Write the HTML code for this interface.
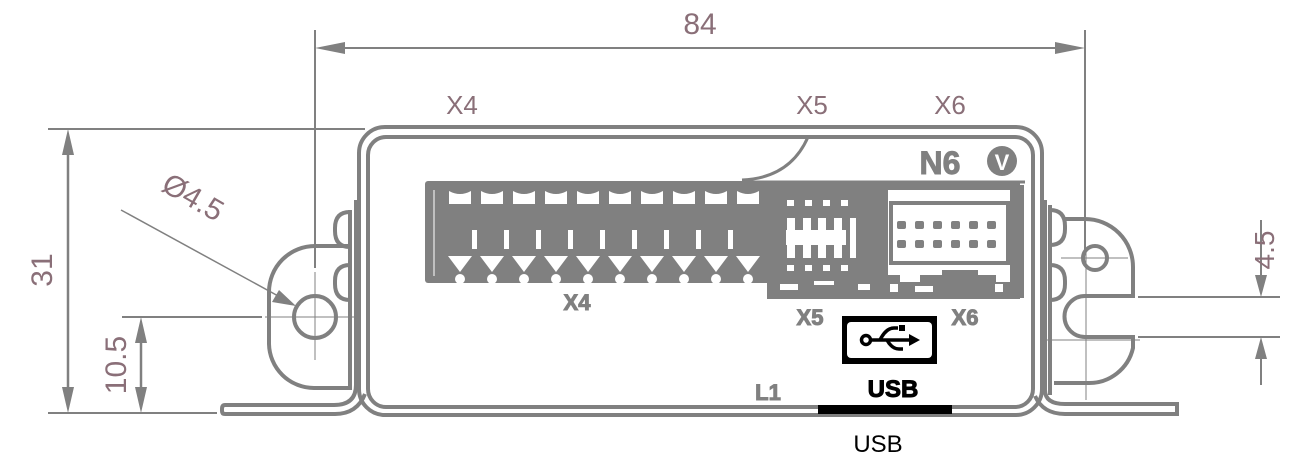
<!DOCTYPE html>
<html><head><meta charset="utf-8"><style>
html,body{margin:0;padding:0;background:#fff;width:1292px;height:462px;overflow:hidden}
svg{display:block}
text{font-family:"Liberation Sans",sans-serif}
</style></head><body>
<svg width="1292" height="462" viewBox="0 0 1292 462" xmlns="http://www.w3.org/2000/svg">
<g stroke="#808080" fill="none">
<line x1="315" y1="30" x2="315" y2="268" stroke-width="2"/>
<line x1="1085" y1="30" x2="1085" y2="252" stroke-width="2"/>
<line x1="345" y1="48" x2="1055" y2="48" stroke-width="2"/>
<path d="M315,48 l30,-6 v12 z M1085,48 l-30,-6 v12 z" fill="#808080" stroke="none"/>
<line x1="48" y1="129" x2="365" y2="129" stroke-width="2"/>
<line x1="48" y1="413" x2="217" y2="413" stroke-width="2"/>
<line x1="68" y1="155" x2="68" y2="387" stroke-width="2.5"/>
<path d="M68,129 l-6,26 h12 z M68,413 l-6,-26 h12 z" fill="#808080" stroke="none"/>
<line x1="122" y1="317" x2="262" y2="317" stroke-width="2"/>
<line x1="141" y1="343" x2="141" y2="387" stroke-width="2.5"/>
<path d="M141,317 l-6,26 h12 z M141,413 l-6,-26 h12 z" fill="#808080" stroke="none"/>
<line x1="121" y1="210" x2="280" y2="297" stroke-width="1.5"/>
<path d="M296,306 l-24,-4 l7,-12 z" fill="#808080" stroke="none"/>
<line x1="1138" y1="297" x2="1280" y2="297" stroke-width="2"/>
<line x1="1138" y1="337" x2="1280" y2="337" stroke-width="2"/>
<line x1="1261" y1="220" x2="1261" y2="275" stroke-width="2"/>
<line x1="1261" y1="359" x2="1261" y2="385" stroke-width="2"/>
<path d="M1261,297 l-6,-22 h12 z M1261,337 l-6,22 h12 z" fill="#808080" stroke="none"/>

<rect x="359" y="127" width="683" height="288" rx="26" stroke-width="4"/>
<rect x="368" y="137" width="665" height="270" rx="18" stroke-width="4"/>

<path d="M349,246 H315 A46,46 0 0 0 269,292 V344 A45,45 0 0 0 314,388 H349" stroke-width="4"/>
<path d="M350,212 q-15,0 -15,16 v3 q0,16 15,16" stroke-width="4"/>
<path d="M350,265 q-15,0 -15,16 v3 q0,16 15,16" stroke-width="4"/>
<line x1="350" y1="210" x2="350" y2="390" stroke-width="4"/>
<path d="M356,200 V385 q0,20 -22,20 H225 q-3,0 -3,4 v2 q0,3 3,3 H335 q22,0 30,-20" stroke-width="4"/>
<circle cx="315" cy="317" r="21" stroke-width="4"/>
<line x1="315" y1="272" x2="315" y2="360" stroke-width="1"/>
<line x1="265" y1="317" x2="358" y2="317" stroke-width="1"/>

<path d="M1064,219 H1085 A48,48 0 0 1 1133,267 V296 H1085 A20,20 0 0 0 1085,337 H1133 V348 A45,45 0 0 1 1088,383 H1054" stroke-width="4"/>
<path d="M1050,210 q15,0 15,16 v3 q0,16 -15,16" stroke-width="4"/>
<path d="M1050,265 q15,0 15,16 v3 q0,16 -15,16" stroke-width="4"/>
<line x1="1050" y1="205" x2="1050" y2="395" stroke-width="4"/>
<path d="M1045,200 V390 q0,14 20,14 H1177 v10 H1065 q-22,0 -30,-18" stroke-width="4"/>
<circle cx="1095" cy="258" r="12" stroke-width="4"/>
<line x1="1061" y1="258" x2="1128" y2="258" stroke-width="1"/>
<line x1="1086" y1="250" x2="1086" y2="400" stroke-width="1"/>
<line x1="1040" y1="340" x2="1140" y2="340" stroke-width="1"/>

<path d="M808,137 Q790,178 742,180" stroke-width="3"/>
<line x1="742" y1="182" x2="1025" y2="182" stroke-width="3"/>
<line x1="1021" y1="185" x2="1021" y2="298" stroke-width="6"/>
</g>

<rect x="425" y="181" width="345" height="102" rx="3" fill="#808080"/>
<line x1="434" y1="190" x2="434" y2="276" stroke="#fff" stroke-width="1"/>
<g fill="#fff">
<path d="M449,191 q11,6 22,0 v13 h-22z M481,191 q11,6 22,0 v13 h-22z M513,191 q11,6 22,0 v13 h-22z M545,191 q11,6 22,0 v13 h-22z M577,191 q11,6 22,0 v13 h-22z M609,191 q11,6 22,0 v13 h-22z M641,191 q11,6 22,0 v13 h-22z M673,191 q11,6 22,0 v13 h-22z M705,191 q11,6 22,0 v13 h-22z M737,191 q11,6 22,0 v13 h-22z"/>
<rect x="472" y="230" width="5" height="19"/><rect x="504" y="230" width="5" height="19"/><rect x="536" y="230" width="5" height="19"/><rect x="568" y="230" width="5" height="19"/><rect x="600" y="230" width="5" height="19"/><rect x="632" y="230" width="5" height="19"/><rect x="664" y="230" width="5" height="19"/><rect x="696" y="230" width="5" height="19"/><rect x="728" y="230" width="5" height="19"/>
<path d="M448,256h24l-12,16z M480,256h24l-12,16z M512,256h24l-12,16z M544,256h24l-12,16z M576,256h24l-12,16z M608,256h24l-12,16z M640,256h24l-12,16z M672,256h24l-12,16z M704,256h24l-12,16z M736,256h24l-12,16z"/>
<circle cx="460" cy="279" r="5"/><circle cx="492" cy="279" r="5"/><circle cx="524" cy="279" r="5"/><circle cx="556" cy="279" r="5"/><circle cx="588" cy="279" r="5"/><circle cx="620" cy="279" r="5"/><circle cx="652" cy="279" r="5"/><circle cx="684" cy="279" r="5"/><circle cx="716" cy="279" r="5"/><circle cx="748" cy="279" r="5"/>
</g>

<rect x="767" y="182" width="118" height="117" fill="#808080"/>
<g fill="#fff">
<rect x="787" y="200" width="7" height="6"/><rect x="805" y="200" width="7" height="6"/><rect x="823" y="200" width="7" height="6"/><rect x="841" y="200" width="7" height="6"/>
<rect x="787" y="218" width="8" height="40"/><rect x="803" y="218" width="8" height="40"/><rect x="818" y="218" width="8" height="40"/><rect x="834" y="218" width="8" height="40"/><rect x="850" y="218" width="6" height="40"/><rect x="786" y="230" width="60" height="15"/>
<rect x="787" y="265" width="7" height="6"/><rect x="805" y="265" width="7" height="6"/><rect x="823" y="265" width="7" height="6"/><rect x="841" y="265" width="7" height="6"/>
<rect x="780" y="284" width="18" height="6"/><rect x="814" y="281" width="20" height="4"/><rect x="858" y="284" width="12" height="6"/>
</g>
<rect x="885" y="182" width="135" height="117" fill="#808080"/>
<rect x="888" y="190" width="122" height="92" fill="#fff"/>
<rect x="891" y="203" width="117" height="60" fill="none" stroke="#808080" stroke-width="4"/>
<g fill="#808080">
<rect x="897" y="221" width="9" height="8" rx="2"/><rect x="915" y="221" width="9" height="8" rx="2"/><rect x="933" y="221" width="9" height="8" rx="2"/><rect x="951" y="221" width="9" height="8" rx="2"/><rect x="969" y="221" width="9" height="8" rx="2"/><rect x="987" y="221" width="9" height="8" rx="2"/>
<rect x="897" y="240" width="9" height="8" rx="2"/><rect x="915" y="240" width="9" height="8" rx="2"/><rect x="933" y="240" width="9" height="8" rx="2"/><rect x="951" y="240" width="9" height="8" rx="2"/><rect x="969" y="240" width="9" height="8" rx="2"/><rect x="987" y="240" width="9" height="8" rx="2"/>
<path d="M888,275 h12 v8 h20 v-8 h22 v-5 h36 v5 h18 v12 H888z"/>
</g>
<g fill="#fff"><rect x="890" y="284" width="8" height="8"/><rect x="915" y="286" width="18" height="6"/><rect x="995" y="284" width="8" height="8"/></g>

<rect x="842" y="316" width="95" height="48" fill="#000"/>
<rect x="847" y="322" width="85" height="36" rx="4" fill="#fff"/>
<g stroke="#000" stroke-width="3.5" fill="none">
<circle cx="866" cy="340" r="4.5"/>
<line x1="871" y1="340" x2="912" y2="340"/>
<path d="M880,340 q6,-12 14,-12 h4"/>
<path d="M887,340 q5,9 12,9 h4"/>
</g>
<path d="M909,334 l11,6 l-11,6 z" fill="#000"/>
<rect x="899" y="325" width="6" height="6" fill="#000"/>
<rect x="818" y="405" width="134" height="9" fill="#000"/>

<g font-weight="bold" fill="#808080" stroke="#808080" stroke-width="1">
<text x="577" y="310" font-size="22" text-anchor="middle">X4</text>
<text x="810" y="325" font-size="22" text-anchor="middle">X5</text>
<text x="965" y="325" font-size="22" text-anchor="middle">X6</text>
<text x="768" y="400" font-size="22" text-anchor="middle">L1</text>
<text x="940" y="174" font-size="32" text-anchor="middle">N6</text>
</g>
<circle cx="1002" cy="161" r="15" fill="#808080"/>
<text x="1002" y="170" font-size="22" font-weight="bold" fill="#fff" text-anchor="middle">V</text>
<text x="893" y="397" font-size="24" font-weight="bold" fill="#000" text-anchor="middle" stroke="#000" stroke-width="1">USB</text>
<text x="878" y="452" font-size="24" fill="#000" text-anchor="middle">USB</text>

<g fill="#8a6f78" font-size="26">
<text x="700" y="34" text-anchor="middle" font-size="30">84</text>
<text x="462" y="114" text-anchor="middle">X4</text>
<text x="812" y="114" text-anchor="middle">X5</text>
<text x="950" y="114" text-anchor="middle">X6</text>
<text transform="translate(52,270) rotate(-90)" text-anchor="middle" font-size="30">31</text>
<text transform="translate(126,365) rotate(-90)" text-anchor="middle" font-size="30">10.5</text>
<text transform="translate(1274,250) rotate(-90)" text-anchor="middle" font-size="28">4.5</text>
<text transform="translate(188,206) rotate(30)" text-anchor="middle" font-size="30">Ø4.5</text>
</g>
</svg>
</body></html>
